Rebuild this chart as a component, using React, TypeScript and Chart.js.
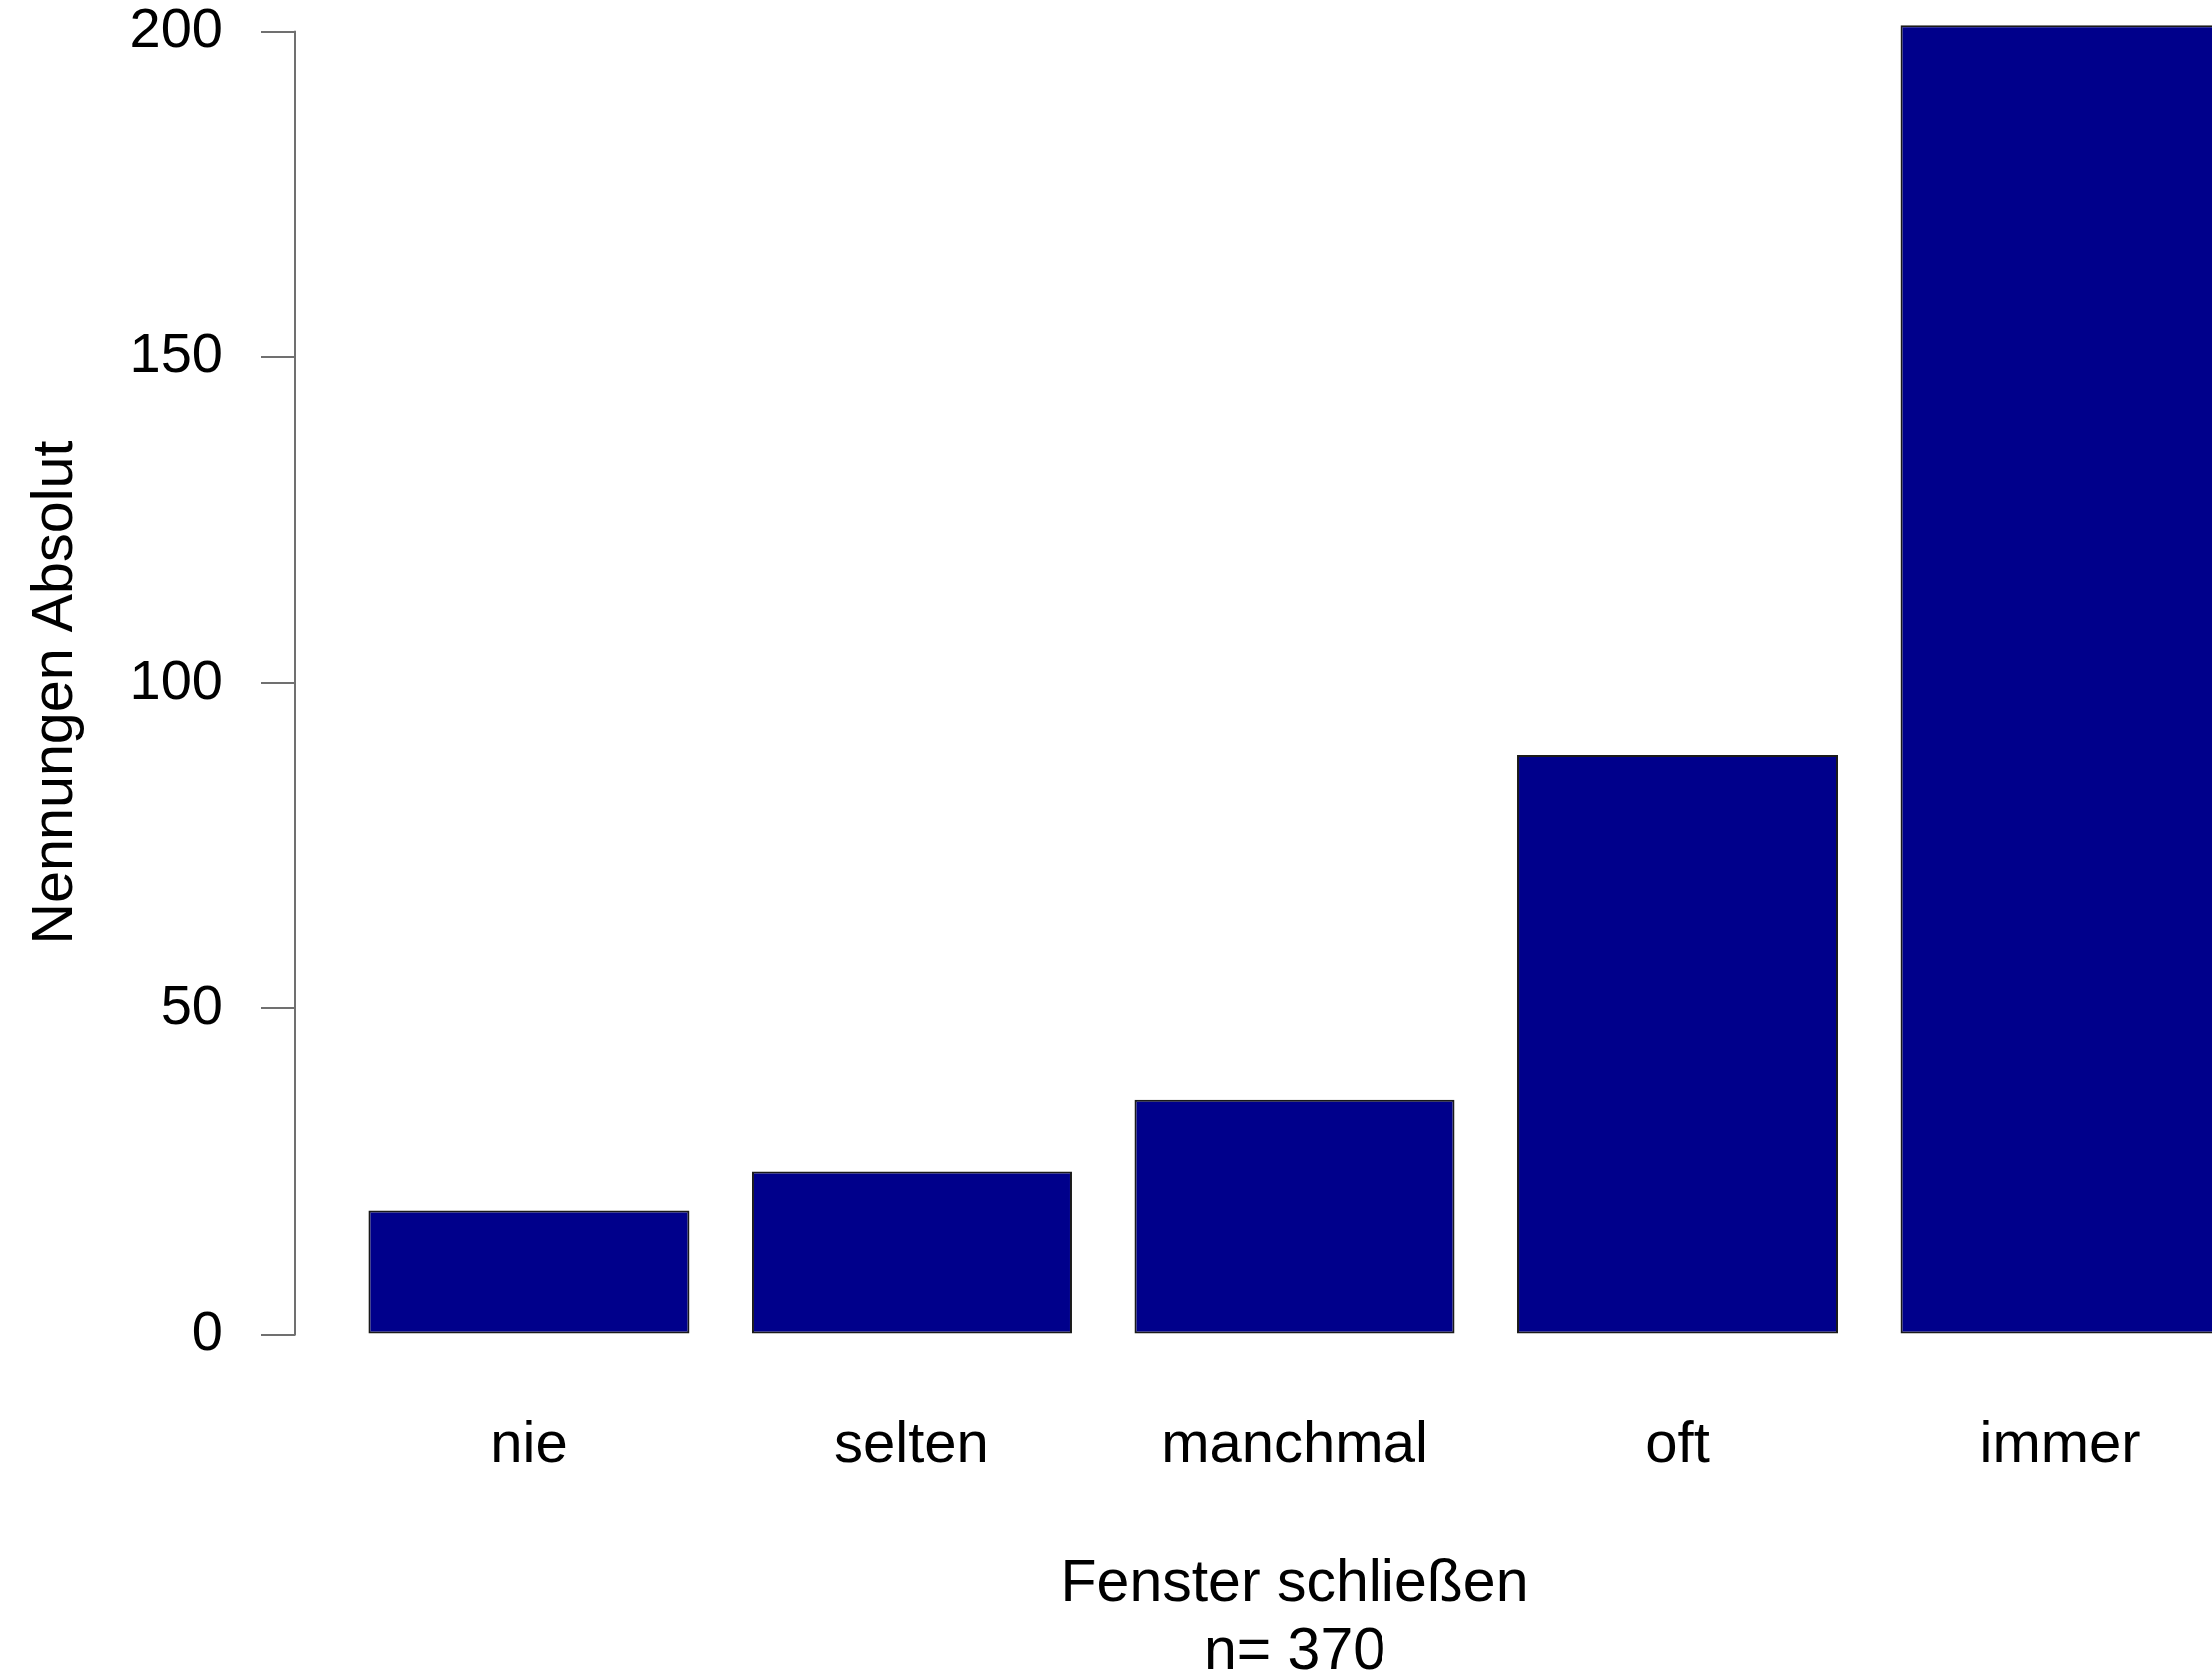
import { useEffect, useRef } from 'react';
import { Chart, registerables } from 'chart.js';

Chart.register(...registerables);

// ---- data ----
const categories = ['nie', 'selten', 'manchmal', 'oft', 'immer'];
const counts = [19, 25, 36, 89, 201];
const yTickValues = [0, 50, 100, 150, 200];
const yAxisTitle = 'Nennungen Absolut';
const xAxisTitle = 'Fenster schließen';

// ---- style ----
const FONT = "'Liberation Sans', Arial, Helvetica, sans-serif";
const AXIS_COLOR = '#707070';
const BAR_COLOR = '#00008B';
const CANVAS_W = 2298;
const CANVAS_H = 1770;
const CANVAS_TOP = -81;
const PAD_TOP = 80;

export default function App() {
  const ref = useRef<HTMLCanvasElement>(null);

  useEffect(() => {
    if (!ref.current) return;
    const total = counts.reduce((a, b) => a + b, 0);
    // R barplot style extents (bar width 1, space 0.2, 4% axis expansion)
    const half = 1 / 1.2 / 2;
    const xLo = -half;
    const xHi = categories.length - 1 + half;
    const xPad = (xHi - xLo) * 0.04;
    const yHi = Math.max(...counts);
    const yPadLow = yHi * 0.04;
    const yPadHigh = yHi * 0.02;

    const axisLine = {
      id: 'axisLine',
      afterDraw(chart: any) {
        const s = chart.scales.y;
        const ctx = chart.ctx;
        ctx.save();
        ctx.strokeStyle = AXIS_COLOR;
        ctx.lineWidth = 2;
        ctx.beginPath();
        ctx.moveTo(s.right, s.getPixelForValue(yTickValues[0]) + 1);
        ctx.lineTo(s.right, s.getPixelForValue(yTickValues[yTickValues.length - 1]) - 1);
        ctx.stroke();
        ctx.restore();
      },
    };

    const chart = new Chart(ref.current, {
      type: 'bar',
      data: {
        datasets: [
          {
            data: categories.map((_, i) => ({ x: i, y: counts[i] })),
            backgroundColor: BAR_COLOR,
            borderColor: '#1a1a1a',
            borderWidth: 2,
            borderSkipped: false,
            categoryPercentage: 1,
            barPercentage: 0.837,
          },
        ],
      },
      options: {
        animation: false,
        responsive: false,
        devicePixelRatio: 1,
        layout: { padding: { top: PAD_TOP, left: 0, right: 0, bottom: 0 } },
        plugins: {
          legend: { display: false },
          tooltip: { enabled: false },
        },
        scales: {
          x: {
            type: 'linear',
            position: 'bottom',
            bounds: 'data',
            offset: false,
            min: xLo - xPad,
            max: xHi + xPad,
            grid: { display: false, offset: false },
            border: { display: false },
            afterBuildTicks: (scale: any) => {
              scale.ticks = categories.map((_, i) => ({ value: i }));
            },
            afterFit: (scale: any) => {
              scale.height = 300;
            },
            ticks: {
              autoSkip: false,
              maxRotation: 0,
              minRotation: 0,
              padding: 17,
              color: '#000',
              font: { family: FONT, size: 58 },
              callback: (v: any) => categories[Number(v)] ?? '',
            },
            title: {
              display: true,
              text: [xAxisTitle, `n= ${total}`],
              color: '#000',
              font: { family: FONT, size: 59, lineHeight: 1.14 },
              padding: { top: 0, bottom: 0 },
            },
          },
          y: {
            type: 'linear',
            position: 'left',
            bounds: 'data',
            min: 0 - yPadLow,
            max: yHi + yPadHigh,
            afterBuildTicks: (scale: any) => {
              scale.ticks = yTickValues.map((v) => ({ value: v }));
            },
            afterFit: (scale: any) => {
              scale.width = 296;
            },
            grid: {
              display: true,
              drawOnChartArea: false,
              drawTicks: true,
              tickLength: 35,
              color: AXIS_COLOR,
              lineWidth: 2,
            },
            border: { display: false },
            ticks: {
              padding: 38,
              color: '#000',
              font: { family: FONT, size: 56 },
              callback: (v: any) => String(v),
            },
            title: {
              display: true,
              text: yAxisTitle,
              color: '#000',
              font: { family: FONT, size: 57.5 },
              padding: { top: 22, bottom: 0 },
            },
          },
        },
      },
      plugins: [axisLine],
    });

    return () => chart.destroy();
  }, []);

  return (
    <div
      style={{
        position: 'fixed',
        left: 0,
        top: 0,
        width: 2216,
        height: 1680,
        overflow: 'hidden',
        background: '#fff',
      }}
    >
      <canvas
        ref={ref}
        width={CANVAS_W}
        height={CANVAS_H}
        style={{ position: 'absolute', left: 0, top: CANVAS_TOP, display: 'block' }}
      />
    </div>
  );
}
